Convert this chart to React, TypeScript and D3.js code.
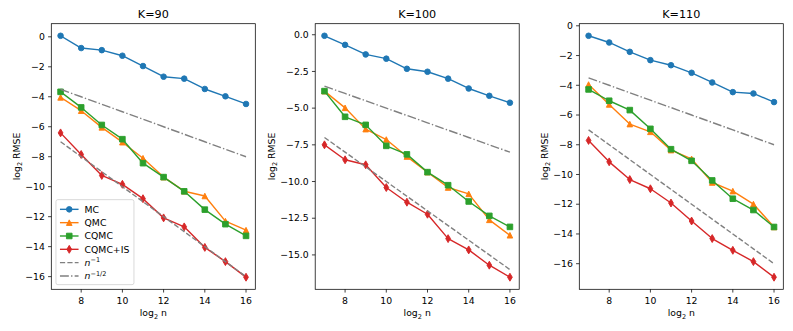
import React from "react";
import * as d3 from "d3";

// ---------- data ----------
const LOG2N = [7, 8, 9, 10, 11, 12, 13, 14, 15, 16];
const X_TICKS = [8, 10, 12, 14, 16];
const TITLES = ["K=90", "K=100", "K=110"];
const SERIES_NAMES = ["MC", "QMC", "CQMC", "CQMC+IS"];

const MC_90 = [0.07, -0.75, -0.89, -1.26, -1.95, -2.66, -2.79, -3.48, -3.97, -4.48];
const QMC_90 = [-4.04, -4.93, -6.04, -7.03, -8.1, -9.36, -10.3, -10.62, -12.3, -12.9];
const CQMC_90 = [-3.67, -4.71, -5.88, -6.83, -8.43, -9.36, -10.31, -11.53, -12.5, -13.28];
const CQMCIS_90 = [-6.41, -7.85, -9.25, -9.84, -10.8, -12.08, -12.68, -14.05, -15.0, -16.04];

const MC_100 = [-0.07, -0.69, -1.34, -1.63, -2.32, -2.52, -2.99, -3.66, -4.16, -4.63];
const QMC_100 = [-3.84, -4.98, -6.43, -7.14, -8.3, -9.36, -10.41, -10.84, -12.61, -13.66];
const CQMC_100 = [-3.84, -5.59, -6.14, -7.57, -8.15, -9.36, -10.25, -11.36, -12.34, -13.09];
const CQMCIS_100 = [-7.5, -8.52, -8.86, -10.41, -11.41, -12.23, -13.89, -14.66, -15.7, -16.52];

const MC_110 = [-0.67, -1.12, -1.75, -2.31, -2.65, -3.16, -3.81, -4.46, -4.55, -5.13];
const QMC_110 = [-3.95, -5.29, -6.61, -7.13, -8.36, -8.95, -10.54, -11.12, -11.99, -13.53];
const CQMC_110 = [-4.28, -5.04, -5.67, -6.93, -8.3, -9.08, -10.4, -11.63, -12.39, -13.53];
const CQMCIS_110 = [-7.71, -9.15, -10.34, -10.96, -11.92, -13.13, -14.31, -15.1, -15.86, -16.91];

// reference rates: n^-1 and n^-1/2 (log2 scale)
const REF_N1 = [-7, -8, -9, -10, -11, -12, -13, -14, -15, -16];
const REF_NHALF = [-3.5, -4, -4.5, -5, -5.5, -6, -6.5, -7, -7.5, -8];

const Y_TICKS_90 = [-16, -14, -12, -10, -8, -6, -4, -2, 0];
const Y_TICKS_100 = [-15, -12.5, -10, -7.5, -5, -2.5, 0];
const Y_TICKS_110 = [-16, -14, -12, -10, -8, -6, -4, -2, 0];

const PANELS = [
  { title: TITLES[0], series: [MC_90, QMC_90, CQMC_90, CQMCIS_90], yTicks: Y_TICKS_90, fmt: "d", legend: true },
  { title: TITLES[1], series: [MC_100, QMC_100, CQMC_100, CQMCIS_100], yTicks: Y_TICKS_100, fmt: ".1f", legend: false },
  { title: TITLES[2], series: [MC_110, QMC_110, CQMC_110, CQMCIS_110], yTicks: Y_TICKS_110, fmt: "d", legend: false },
];

// ---------- style / layout ----------
const W = 793;
const H = 331;
const AX_LEFTS = [51.3, 315.2, 579.3];
const AX_W = 204;
const AX_TOP = 23.7;
const AX_H = 265.6;
const FONT = "DejaVu Sans, sans-serif";
const FS = 9.3;
const COLORS = ["#1f77b4", "#ff7f0e", "#2ca02c", "#d62728"];
const MARKERS = ["circle", "triangle", "square", "thindiamond"];
const LW = 1.4;
const MS = 5.6;
const MEW = 0.93;
const REF_COLOR = "#808080";
const DASH = "5.2,2.2";
const DASHDOT = "8.9,2.2,1.4,2.2";
const TICK_LEN = 3.25;

const minusify = (s: string) => s.replace(/-/g, "\u2212");

function textWidth(s: string, fs: number) {
  let w = 0;
  for (const ch of s) {
    if (ch === "\u2212") w += 0.838;
    else if (ch === ".") w += 0.318;
    else w += 0.636;
  }
  return w * fs;
}

function markerPath(kind: string, s: number) {
  const h = s / 2;
  if (kind === "triangle") return `M0,${-h}L${-h},${h}L${h},${h}Z`;
  if (kind === "square") return `M${-h},${-h}H${h}V${h}H${-h}Z`;
  if (kind === "thindiamond") {
    const dy = (s * Math.SQRT2) / 2;
    const dx = dy * 0.6;
    return `M0,${-dy}L${dx},0L0,${dy}L${-dx},0Z`;
  }
  return d3.symbol(d3.symbolCircle, Math.PI * h * h)() as string;
}

function Marker({ kind, x, y, color }: { kind: string; x: number; y: number; color: string }) {
  return (
    <path
      d={markerPath(kind, MS)}
      transform={`translate(${x},${y})`}
      fill={color}
      stroke={color}
      strokeWidth={MEW}
      strokeLinejoin="miter"
    />
  );
}

function Panel({ idx }: { idx: number }) {
  const p = PANELS[idx];
  const left = AX_LEFTS[idx];
  const right = left + AX_W;
  const top = AX_TOP;
  const bottom = AX_TOP + AX_H;

  const xExt = d3.extent(LOG2N) as [number, number];
  const xPad = (xExt[1] - xExt[0]) * 0.05;
  const x = d3.scaleLinear().domain([xExt[0] - xPad, xExt[1] + xPad]).range([left, right]);

  const allY = [...p.series.flat(), ...REF_N1, ...REF_NHALF];
  const yExt = d3.extent(allY) as [number, number];
  const yPad = (yExt[1] - yExt[0]) * 0.05;
  const y = d3.scaleLinear().domain([yExt[0] - yPad, yExt[1] + yPad]).range([bottom, top]);

  const line = d3
    .line<number>()
    .x((_, i) => x(LOG2N[i]))
    .y((d) => y(d));

  const fmt = d3.format(p.fmt);
  const yLabels = p.yTicks.map((t) => minusify(fmt(t)));
  const maxW = Math.max(...yLabels.map((l) => textWidth(l, FS)));
  const tickLabelRight = left - TICK_LEN - 3.25;
  const yLabelX = tickLabelRight - maxW - 5.5;
  const cy = (top + bottom) / 2;

  // legend
  const legRows = [
    ...SERIES_NAMES.map((n, i) => ({ type: "series", i, label: n })),
    { type: "dash", i: 4, label: "n1" },
    { type: "dashdot", i: 5, label: "nhalf" },
  ];
  const rowH = 13.33;
  const legLeft = left + 4.65;
  const legBottom = bottom - 4.65;
  const legH = rowH * legRows.length + 5;
  const legTop = legBottom - legH;
  const legW = 78;
  const hx0 = legLeft + 4;
  const hx1 = hx0 + 18.6;
  const tx = hx1 + 6;

  return (
    <g>
      {/* title */}
      <text x={(left + right) / 2} y={top - 5.6} textAnchor="middle" fontFamily={FONT} fontSize={11.2} fill="#000">
        {p.title}
      </text>

      {/* data */}
      <g>
        {p.series.map((vals, si) => (
          <g key={si}>
            <path d={line(vals) as string} fill="none" stroke={COLORS[si]} strokeWidth={LW} strokeLinejoin="round" strokeLinecap="square" />
            {vals.map((v, i) => (
              <Marker key={i} kind={MARKERS[si]} x={x(LOG2N[i])} y={y(v)} color={COLORS[si]} />
            ))}
          </g>
        ))}
        <path d={line(REF_N1) as string} fill="none" stroke={REF_COLOR} strokeWidth={LW} strokeDasharray={DASH} />
        <path d={line(REF_NHALF) as string} fill="none" stroke={REF_COLOR} strokeWidth={LW} strokeDasharray={DASHDOT} />
      </g>

      {/* spines */}
      <rect x={left} y={top} width={AX_W} height={AX_H} fill="none" stroke="#000" strokeWidth={0.75} />

      {/* x ticks */}
      {X_TICKS.map((t) => (
        <g key={t}>
          <line x1={x(t)} x2={x(t)} y1={bottom} y2={bottom + TICK_LEN} stroke="#000" strokeWidth={0.75} />
          <text x={x(t)} y={bottom + 14.5} textAnchor="middle" fontFamily={FONT} fontSize={FS} fill="#000">
            {t}
          </text>
        </g>
      ))}

      {/* y ticks */}
      {p.yTicks.map((t, i) => (
        <g key={t}>
          <line x1={left - TICK_LEN} x2={left} y1={y(t)} y2={y(t)} stroke="#000" strokeWidth={0.75} />
          <text x={tickLabelRight} y={y(t)} dy="0.35em" textAnchor="end" fontFamily={FONT} fontSize={FS} fill="#000">
            {yLabels[i]}
          </text>
        </g>
      ))}

      {/* x label */}
      <text x={(left + right) / 2} y={bottom + 27} textAnchor="middle" fontFamily={FONT} fontSize={FS} fill="#000">
        log<tspan dy={2.6} fontSize={6.5}>2</tspan>
        <tspan dy={-2.6}> n</tspan>
      </text>

      {/* y label */}
      <text
        transform={`translate(${yLabelX},${cy}) rotate(-90)`}
        textAnchor="middle"
        fontFamily={FONT}
        fontSize={FS}
        fill="#000"
      >
        log<tspan dy={2.6} fontSize={6.5}>2</tspan>
        <tspan dy={-2.6}> RMSE</tspan>
      </text>

      {/* legend */}
      {p.legend && (
        <g>
          <rect x={legLeft} y={legTop} width={legW} height={legH} rx={1.9} fill="#fff" fillOpacity={0.8} stroke="#cccccc" strokeWidth={0.75} />
          {legRows.map((r, k) => {
            const ry = legTop + 2.5 + rowH * (k + 0.5) + 0.5;
            if (r.type === "series") {
              return (
                <g key={k}>
                  <line x1={hx0} x2={hx1} y1={ry} y2={ry} stroke={COLORS[r.i]} strokeWidth={LW} />
                  <Marker kind={MARKERS[r.i]} x={(hx0 + hx1) / 2} y={ry} color={COLORS[r.i]} />
                  <text x={tx} y={ry} dy="0.35em" fontFamily={FONT} fontSize={FS} fill="#000">
                    {r.label}
                  </text>
                </g>
              );
            }
            return (
              <g key={k}>
                <line
                  x1={hx0}
                  x2={hx1}
                  y1={ry}
                  y2={ry}
                  stroke={REF_COLOR}
                  strokeWidth={LW}
                  strokeDasharray={r.type === "dash" ? DASH : DASHDOT}
                />
                <text x={tx} y={ry} dy="0.35em" fontFamily={FONT} fontSize={FS} fill="#000">
                  <tspan fontStyle="italic">n</tspan>
                  <tspan dy={-3.6} fontSize={6.5}>
                    {r.type === "dash" ? "\u22121" : "\u22121/2"}
                  </tspan>
                </text>
              </g>
            );
          })}
        </g>
      )}
    </g>
  );
}

export default function App() {
  return (
    <svg
      width={W}
      height={H}
      viewBox={`0 0 ${W} ${H}`}
      style={{ position: "absolute", left: 0, top: 0, background: "#fff" }}
    >
      <rect x={0} y={0} width={W} height={H} fill="#fff" />
      {PANELS.map((_, i) => (
        <Panel key={i} idx={i} />
      ))}
    </svg>
  );
}
